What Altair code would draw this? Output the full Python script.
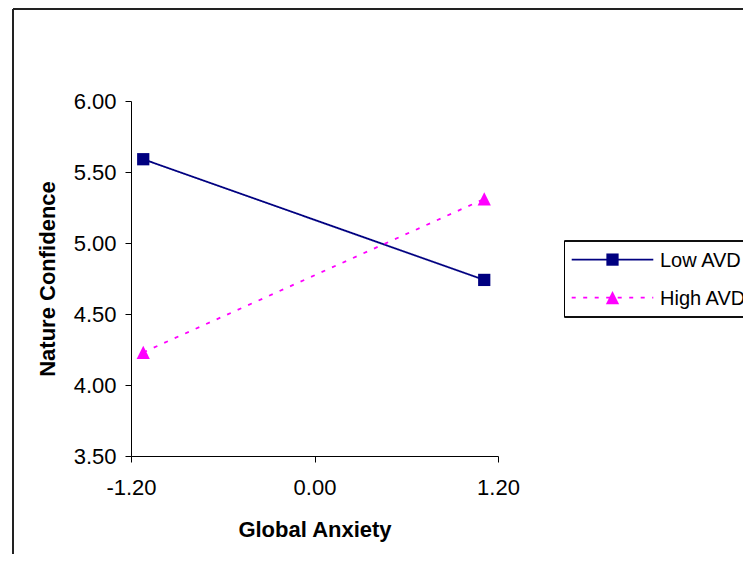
import altair as alt
import pandas as pd

# ---- data ----
series = ["Low AVD", "High AVD"]
x_vals = [-1.12, 1.11]
low_vals = [5.59, 4.74]
high_vals = [4.23, 5.31]
x_ticks = [-1.2, 0.0, 1.2]
y_ticks = [3.5, 4.0, 4.5, 5.0, 5.5, 6.0]

colors = ["#000080", "#FF00FF"]
dashes = [[1, 0], [4, 7.5]]
shapes = ["square", "M0,-1L1,1L-1,1Z"]
sizes = [150, 175]

rows = []
for s, vals in zip(series, [low_vals, high_vals]):
    for x, y in zip(x_vals, vals):
        rows.append({"series": s, "x": x, "y": y})
df = pd.DataFrame(rows)

W, H = 367, 355
PL, PT = 123, 93
TOTAL_W, TOTAL_H = 735, 546
FONT = "Liberation Sans"
FS = 22
LFS = 20

xscale = alt.Scale(domain=[-1.2, 1.2], nice=False, zero=False)
yscale = alt.Scale(domain=[3.5, 6.0], nice=False, zero=False)

xaxis = alt.Axis(
    values=x_ticks,
    labelExpr="datum.value < 0 ? '-' + format(-datum.value, '.2f') : format(datum.value, '.2f')",
    labelFlush=False, labelOverlap=False,
    grid=False, domainColor="black", tickColor="black", tickSize=6,
    labelPadding=15, labelFontSize=FS, labelFont=FONT, labelColor="black",
    title="Global Anxiety", titleFont=FONT, titleFontSize=FS, titleFontWeight="bold",
    titleColor="black", titleBaseline="alphabetic", titleY=80, titleX=W / 2,
    titleAlign="center",
)
yaxis = alt.Axis(
    values=y_ticks, format=".2f", labelFlush=False, labelOverlap=False,
    grid=False, domainColor="black", tickColor="black", tickSize=6,
    labelPadding=9, labelFontSize=FS, labelFont=FONT, labelColor="black",
    title="Nature Confidence", titleFont=FONT, titleFontSize=FS, titleFontWeight="bold",
    titleColor="black", titleBaseline="alphabetic", titleX=-77, titleY=H / 2,
    titleAngle=270, titleAlign="center",
)

base = alt.Chart(df)
layers = []

# frame of the chart area (top and left edges visible)
frame_top = alt.Chart(df).mark_rule(color="#222222", strokeWidth=1.5).encode(
    x=alt.value(-118), x2=alt.value(700), y=alt.value(-92)
)
frame_left = alt.Chart(df).mark_rule(color="#222222", strokeWidth=1.5).encode(
    x=alt.value(-118), y=alt.value(-92), y2=alt.value(520)
)
layers += [frame_top, frame_left]

# axes holder (invisible)
axes = base.mark_point(opacity=0).encode(
    x=alt.X("x:Q", scale=xscale, axis=xaxis),
    y=alt.Y("y:Q", scale=yscale, axis=yaxis),
)
layers.append(axes)

for i, s in enumerate(series):
    sub = base.transform_filter(alt.datum.series == s)
    line = sub.mark_line(color=colors[i], strokeWidth=1.8, strokeDash=dashes[i]).encode(
        x=alt.X("x:Q", scale=xscale), y=alt.Y("y:Q", scale=yscale)
    )
    pts = sub.mark_point(filled=True, color=colors[i], opacity=1, shape=shapes[i],
                         size=sizes[i], strokeWidth=0).encode(
        x=alt.X("x:Q", scale=xscale), y=alt.Y("y:Q", scale=yscale)
    )
    layers += [line, pts]

# legend box (left, top, bottom edges; runs off the right side)
LB_L, LB_T, LB_B, LB_R = 433.5, 140, 216, 700
for enc in [
    dict(x=alt.value(LB_L), x2=alt.value(LB_R), y=alt.value(LB_T)),
    dict(x=alt.value(LB_L), x2=alt.value(LB_R), y=alt.value(LB_B)),
    dict(x=alt.value(LB_L), y=alt.value(LB_T), y2=alt.value(LB_B)),
]:
    layers.append(alt.Chart(df).mark_rule(color="black", strokeWidth=1).encode(**enc))

row_y = [158.6, 196.6]
for i, s in enumerate(series):
    one = pd.DataFrame({"series": [s]})
    lg_line = alt.Chart(one).mark_rule(color=colors[i], strokeWidth=1.8, strokeDash=dashes[i]).encode(
        x=alt.value(440.7), x2=alt.value(522.3), y=alt.value(row_y[i])
    )
    lg_pt = alt.Chart(one).mark_point(filled=True, color=colors[i], opacity=1, shape=shapes[i],
                                      size=sizes[i], strokeWidth=0).encode(
        x=alt.value(481.5), y=alt.value(row_y[i])
    )
    lg_txt = alt.Chart(one).mark_text(align="left", baseline="middle", font=FONT,
                                      fontSize=LFS, color="black").encode(
        x=alt.value(529), y=alt.value(row_y[i] + 1), text="series:N"
    )
    layers += [lg_line, lg_pt, lg_txt]

chart = alt.layer(*layers).properties(
    width=W, height=H,
    autosize=alt.AutoSizeParams(type="none"),
    padding={"left": PL, "top": PT, "right": TOTAL_W - PL - W, "bottom": TOTAL_H - PT - H},
    background="white",
).configure_view(strokeWidth=0)

chart.save("out.html", embed_options={"renderer": "svg", "actions": False})
